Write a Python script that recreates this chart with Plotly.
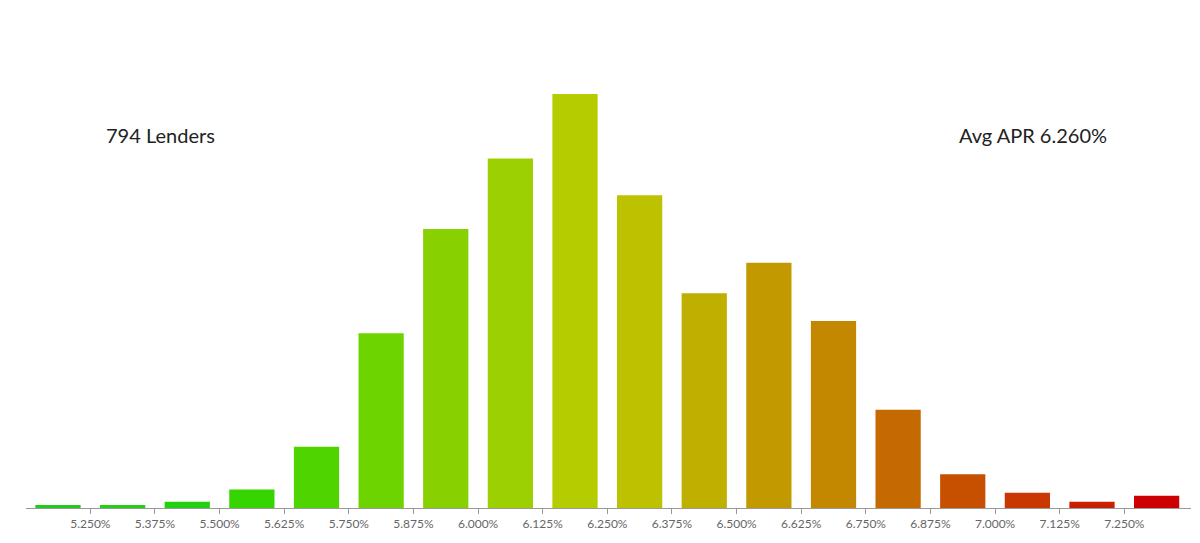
import plotly.graph_objects as go

bin_centers = [5.1875 + 0.125 * i for i in range(18)]
counts = [1, 1, 2, 6, 20, 57, 91, 114, 135, 102, 70, 80, 61, 32, 11, 5, 2, 4]
colors = ["#1ecc1e", "#22d014", "#22d010", "#36d400", "#50d400", "#6ed400", "#88d000",
          "#9dd000", "#b5cc00", "#bdc200", "#bfb000", "#c29a00", "#c48700", "#c56a00",
          "#c75000", "#c83800", "#c82000", "#cc0000"]
tick_vals = [5.25 + 0.125 * i for i in range(17)]
tick_text = ["%.3f%%" % v for v in tick_vals]

fig = go.Figure(go.Bar(x=bin_centers, y=counts, marker_color=colors, width=0.0875,
                       marker_line_width=0, hoverinfo="x+y"))
fig.update_layout(
    width=1200, height=543, plot_bgcolor="white", paper_bgcolor="white",
    margin=dict(l=18, r=17, t=40, b=43), showlegend=False,
    font=dict(family="Lato, Open Sans, sans-serif"),
    xaxis=dict(range=[5.1256, 7.379], tickvals=tick_vals, ticktext=tick_text,
               showgrid=False, showline=True, linecolor="#999", ticks="outside",
               tickcolor="#999", ticklen=5, tickfont=dict(size=12, color="#666")),
    yaxis=dict(range=[0, 150], visible=False),
    annotations=[
        dict(text="794 Lenders", x=0.067, y=0.811, xref="paper", yref="paper",
             xanchor="left", yanchor="middle", showarrow=False,
             font=dict(size=20, color="#222")),
        dict(text="Avg APR 6.260%", x=0.93, y=0.811, xref="paper", yref="paper",
             xanchor="right", yanchor="middle", showarrow=False,
             font=dict(size=20, color="#222")),
    ],
)
fig.write_html("out.html")
